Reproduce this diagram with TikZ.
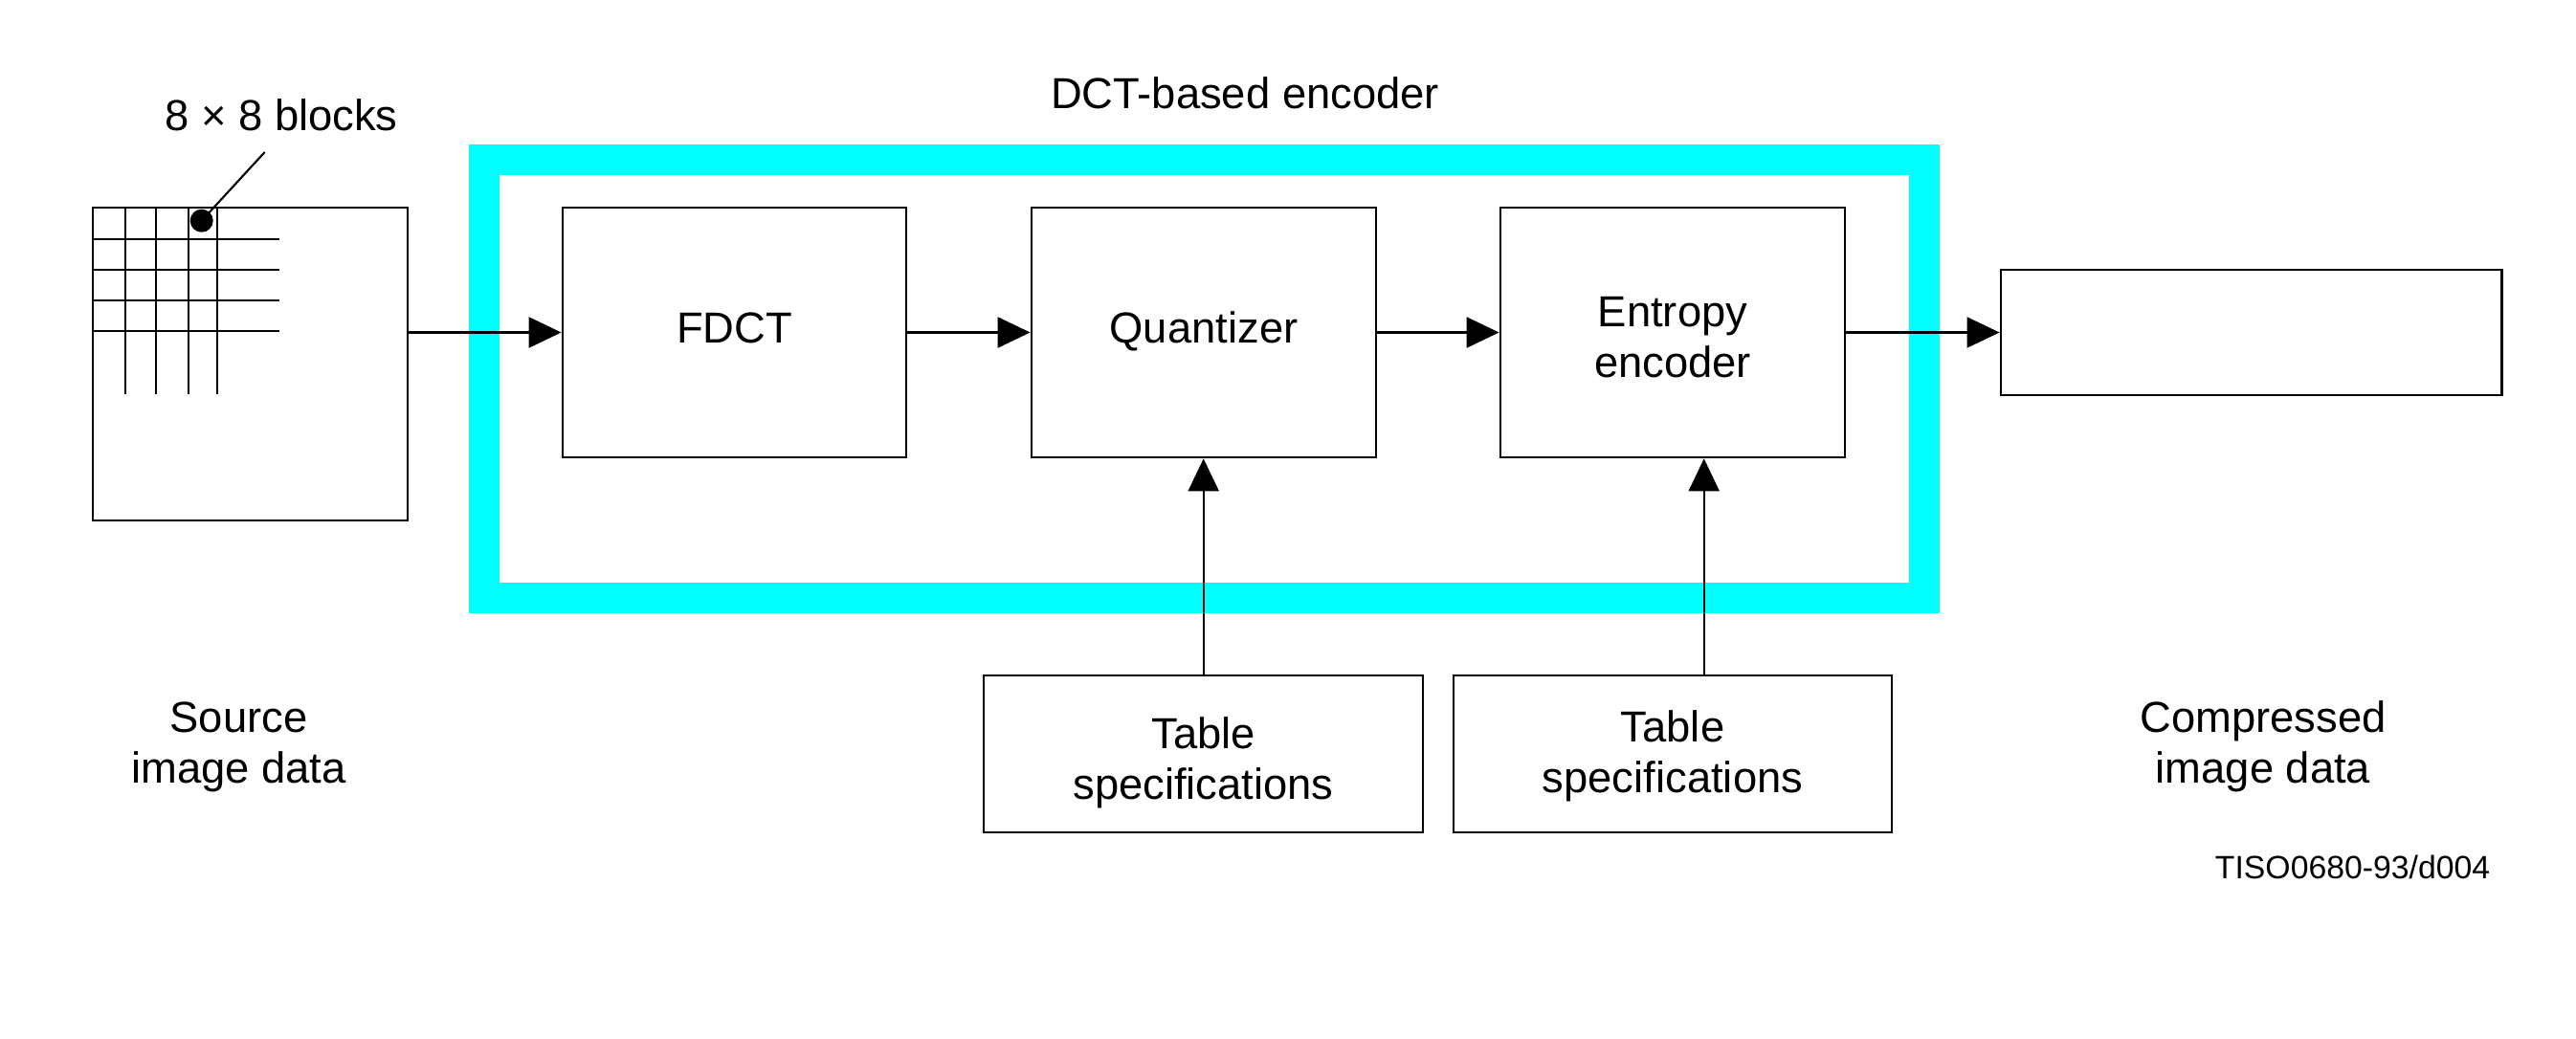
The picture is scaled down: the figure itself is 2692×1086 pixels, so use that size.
\documentclass[tikz,border=0pt]{standalone}
\usepackage{fontspec}
\setmainfont{Liberation Sans}
\usetikzlibrary{arrows.meta}
\definecolor{aqua}{HTML}{00FFFF}
\tikzset{
  px/.style={x=0.01cm,y=-0.01cm},
  lbl/.style={font=\fontsize{12.9pt}{14.94pt}\selectfont, inner sep=0pt, align=center},
  small/.style={font=\fontsize{9.6pt}{11pt}\selectfont, inner sep=0pt},
  blk/.style={draw, line width=0.74pt, inner sep=0pt, align=center,
              font=\fontsize{12.9pt}{14.94pt}\selectfont},
  oneline/.style={text height=0.3cm, text depth=0.084cm},
  arr/.style={line width=0.6pt, -{Triangle[length=0.34cm, width=0.32cm]}},
  ln/.style={line width=0.6pt},
  gridln/.style={line width=0.72pt}
}
\begin{document}
\begin{tikzpicture}[px]
\useasboundingbox[fill=white] (0,0) rectangle (2692,1086);

% encoder frame
\node[draw=aqua, line width=0.32cm, minimum width=15.05cm, minimum height=4.58cm, inner sep=0pt] (enc) at (1258.5,396) {};
\node[lbl, anchor=base] (enclbl) at (1301,113.3) {DCT-based encoder};

% source image
\node[draw, line width=0.74pt, minimum width=3.29cm, minimum height=3.27cm, inner sep=0pt] (src) at (261.5,380.5) {};
\foreach \gx in {131,163,197,227} \draw[gridln] (\gx,217) -- (\gx,412);
\foreach \gy in {250,282,314,346} \draw[gridln] (97,\gy) -- (292,\gy);
\node[circle, fill, inner sep=0pt, minimum size=0.24cm] (dot) at (210.7,230.7) {};
\coordinate (lead) at (276.7,159);
\draw[ln] (dot.center) -- (lead);
\node[lbl, anchor=base] (blocks) at (294,136.7) {8 × 8 blocks};
\node[lbl, anchor=base] (srclbl) at (249.5,818.3) {Source\\image data};

% main blocks
\node[blk, oneline, minimum width=3.59cm, minimum height=2.61cm] (fdct) at (767.5,347.5) {FDCT};
\node[blk, oneline, minimum width=3.60cm, minimum height=2.61cm] (quant) at (1258,347.5) {Quantizer};
\node[blk, text height=1.03cm, text depth=0.1cm, minimum width=3.60cm, minimum height=2.61cm] (ent) at (1748,347.5) {Entropy\\encoder};
\node[draw, line width=0.74pt, minimum width=5.23cm, minimum height=1.31cm, inner sep=0pt] (out) at (2352.5,347.5) {};

% table specifications
\node[blk, text height=1.04cm, text depth=0.1cm, minimum width=4.59cm, minimum height=1.64cm] (tab1) at (1257.5,788) {Table\\specifications};
\node[blk, text height=0.906cm, text depth=0.1cm, minimum width=4.58cm, minimum height=1.64cm] (tab2) at (1748,788) {Table\\specifications};

\node[lbl, anchor=base] (cmplbl) at (2365,818.3) {Compressed\\image data};
\node[small, anchor=base] (fig) at (2458.5,918.3) {TISO0680-93/d004};

% connectors
\coordinate (ax1) at (1257.7,0);
\coordinate (ax2) at (1780.7,0);
\draw[arr] (src.east |- fdct.west) -- (fdct.west);
\draw[arr] (fdct.east) -- (quant.west);
\draw[arr] (quant.east) -- (ent.west);
\draw[arr] (ent.east) -- (out.west);
\draw[arr] (tab1.north -| ax1) -- (quant.south -| ax1);
\draw[arr] (tab2.north -| ax2) -- (ent.south -| ax2);
\end{tikzpicture}
\end{document}
